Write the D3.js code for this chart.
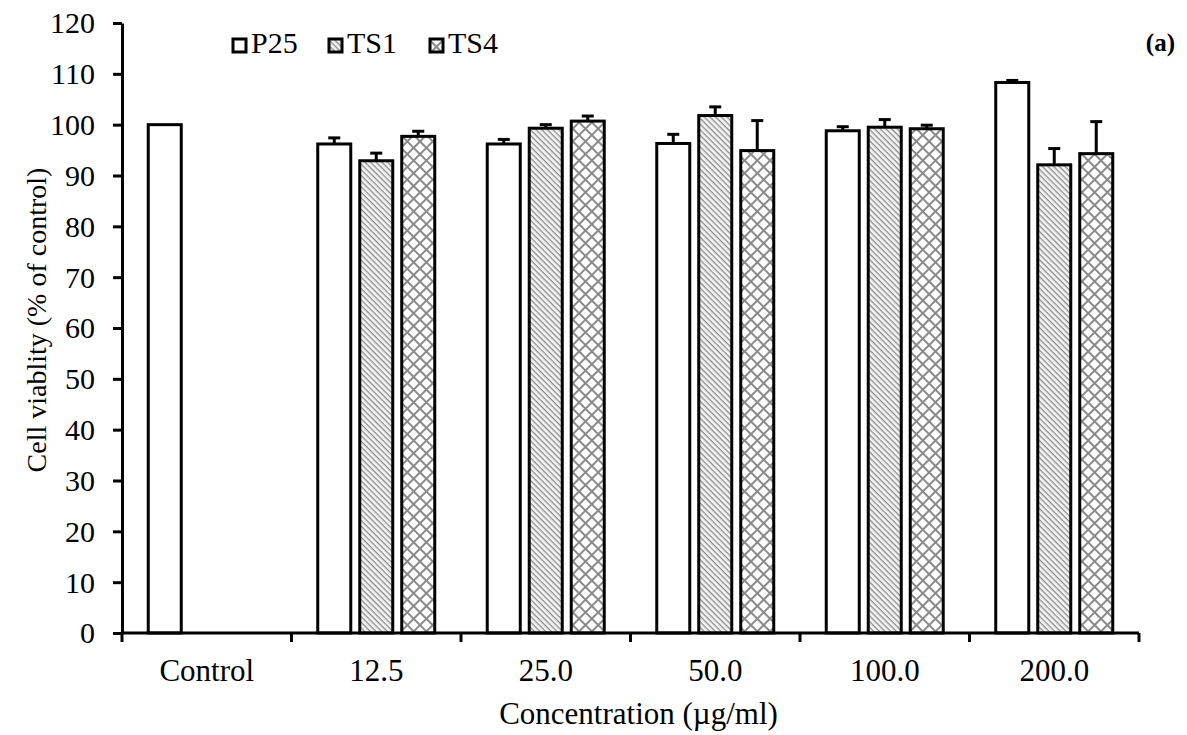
<html>
<head>
<script src="https://d3js.org/d3.v7.min.js"></script>
<style>
  body { margin: 0; background: #fff; }
  svg text { font-family: "Liberation Serif", "Times New Roman", serif; fill: #000; }
</style>
</head>
<body>
<script>
// data
var categories = ["Control", "12.5", "25.0", "50.0", "100.0", "200.0"];
var seriesNames = ["P25", "TS1", "TS4"];
var p25 = [100, 96.2, 96.2, 96.3, 98.8, 108.3];
var p25Err = [0, 1.2, 0.9, 1.8, 0.8, 0.4];
var ts1 = [null, 92.9, 99.3, 101.8, 99.5, 92.1];
var ts1Err = [0, 1.5, 0.7, 1.7, 1.5, 3.2];
var ts4 = [null, 97.7, 100.7, 94.9, 99.2, 94.3];
var ts4Err = [0, 1.0, 1.0, 5.9, 0.7, 6.3];
var yTicks = [0, 10, 20, 30, 40, 50, 60, 70, 80, 90, 100, 110, 120];

var W = 1187, H = 735;
var mLeft = 122, mRight = 1139, mTop = 23, mBottom = 633;

var svg = d3.select("body").append("svg").attr("width", W).attr("height", H);

// patterns
var defs = svg.append("defs");
var pTS1 = defs.append("pattern").attr("id", "pTS1").attr("patternUnits", "userSpaceOnUse")
  .attr("width", 4).attr("height", 4).attr("patternTransform", "rotate(45)");
pTS1.append("rect").attr("width", 4).attr("height", 4).attr("fill", "#f4f4f4");
pTS1.append("rect").attr("width", 4).attr("height", 1.3).attr("fill", "#8c8c8c");

var pTS4 = defs.append("pattern").attr("id", "pTS4").attr("patternUnits", "userSpaceOnUse")
  .attr("width", 9).attr("height", 9).attr("patternTransform", "rotate(45)");
pTS4.append("rect").attr("width", 9).attr("height", 9).attr("fill", "#ffffff");
pTS4.append("rect").attr("width", 9).attr("height", 2).attr("fill", "#8a8a8a");
pTS4.append("rect").attr("width", 2).attr("height", 9).attr("fill", "#8a8a8a");

var fills = { P25: "#ffffff", TS1: "url(#pTS1)", TS4: "url(#pTS4)" };

var x0 = d3.scaleBand().domain(categories).range([mLeft, mRight]).padding(0);
var x1 = d3.scaleBand().domain(seriesNames).range([0, x0.bandwidth()])
  .paddingInner(0.214).paddingOuter(0.625);
var y = d3.scaleLinear().domain([0, 120]).range([mBottom, mTop]);

var rows = [];
categories.forEach(function(c, i) {
  [[p25, p25Err], [ts1, ts1Err], [ts4, ts4Err]].forEach(function(s, j) {
    if (s[0][i] != null) rows.push({ cat: c, name: seriesNames[j], v: s[0][i], e: s[1][i] });
  });
});

var g = svg.append("g");
g.selectAll("rect.bar").data(rows).enter().append("rect")
  .attr("class", "bar")
  .attr("x", function(d) { return x0(d.cat) + x1(d.name); })
  .attr("y", function(d) { return y(d.v); })
  .attr("width", x1.bandwidth())
  .attr("height", function(d) { return y(0) - y(d.v); })
  .attr("fill", function(d) { return fills[d.name]; })
  .attr("stroke", "#000").attr("stroke-width", 3);

// error bars (upper only)
var eb = g.selectAll("g.err").data(rows.filter(function(d) { return d.e > 0; })).enter().append("g");
eb.append("line")
  .attr("x1", function(d) { return x0(d.cat) + x1(d.name) + x1.bandwidth() / 2; })
  .attr("x2", function(d) { return x0(d.cat) + x1(d.name) + x1.bandwidth() / 2; })
  .attr("y1", function(d) { return y(d.v); })
  .attr("y2", function(d) { return y(d.v + d.e); })
  .attr("stroke", "#000").attr("stroke-width", 3);
eb.append("line")
  .attr("x1", function(d) { return x0(d.cat) + x1(d.name) + x1.bandwidth() / 2 - 6; })
  .attr("x2", function(d) { return x0(d.cat) + x1(d.name) + x1.bandwidth() / 2 + 6; })
  .attr("y1", function(d) { return y(d.v + d.e); })
  .attr("y2", function(d) { return y(d.v + d.e); })
  .attr("stroke", "#000").attr("stroke-width", 3);

// y axis
var yAxis = svg.append("g").attr("transform", "translate(" + mLeft + ",0)")
  .call(d3.axisLeft(y).tickValues(yTicks).tickSize(9).tickPadding(18).tickSizeOuter(0));
yAxis.select(".domain").attr("stroke-width", 3);
yAxis.selectAll(".tick line").attr("stroke-width", 3);
yAxis.selectAll("text").style("font-size", "30px").attr("dy", "0.33em")
  .style("font-family", "Liberation Serif");

// x axis
var xAxis = svg.append("g").attr("transform", "translate(0," + mBottom + ")")
  .call(d3.axisBottom(x0).tickSize(0).tickPadding(26));
xAxis.select(".domain").attr("stroke-width", 3).attr("d", "M" + mLeft + ",0H" + mRight);
xAxis.selectAll("text").style("font-size", "31px").style("font-family", "Liberation Serif");
var bounds = categories.map(function(c) { return x0(c); }).concat([mRight]);
xAxis.selectAll("line.bnd").data(bounds).enter().append("line")
  .attr("x1", function(d) { return d; }).attr("x2", function(d) { return d; })
  .attr("y1", 0).attr("y2", 9).attr("stroke", "#000").attr("stroke-width", 3);

// titles
svg.append("text").attr("x", (mLeft + mRight) / 2 + 8).attr("y", 724)
  .attr("text-anchor", "middle").style("font-size", "31px").text("Concentration (\u00b5g/ml)");
svg.append("text").attr("transform", "translate(46," + ((mTop + mBottom) / 2 - 8) + ") rotate(-90)")
  .attr("text-anchor", "middle").style("font-size", "28px").text("Cell viablity (% of control)");
svg.append("text").attr("x", 1175).attr("y", 51).attr("text-anchor", "end")
  .style("font-size", "25px").style("font-weight", "bold").text("(a)");

// legend
var legX = [233, 329, 430];
var leg = svg.selectAll("g.leg").data(seriesNames).enter().append("g")
  .attr("transform", function(d, i) { return "translate(" + legX[i] + ",39)"; });
leg.append("rect").attr("width", 13).attr("height", 13)
  .attr("fill", function(d) { return fills[d]; })
  .attr("stroke", "#000").attr("stroke-width", 3);
leg.append("text").attr("x", 18).attr("y", 14).style("font-size", "30px")
  .text(function(d) { return d; });
</script>
</body>
</html>
